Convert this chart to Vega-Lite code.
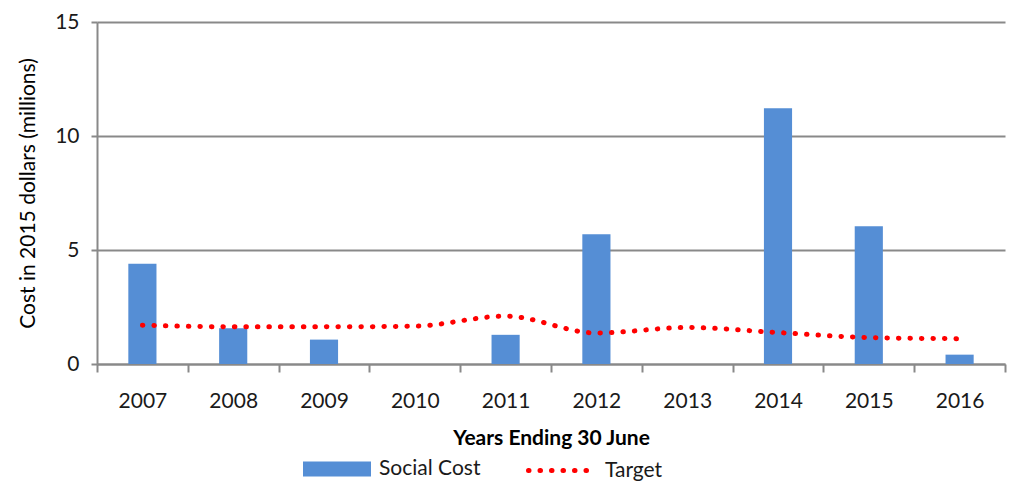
{
  "$schema": "https://vega.github.io/schema/vega-lite/v6.json",
  "width": 908,
  "height": 342,
  "autosize": {"type": "none"},
  "padding": {"left": 97, "top": 22, "right": 13, "bottom": 121},
  "background": "white",
  "config": {
    "view": {"stroke": null},
    "font": "Lato",
    "axis": {"labelFont": "Lato", "titleFont": "Lato", "labelColor": "#1a1a1a", "titleColor": "#000"},
    "legend": {"labelFont": "Lato", "labelFontSize": 21, "labelColor": "#1a1a1a"}
  },
  "data": {
    "values": [
      {"year": "2007", "cost": 4.40, "target": 1.70},
      {"year": "2008", "cost": 1.57, "target": 1.63},
      {"year": "2009", "cost": 1.07, "target": 1.63},
      {"year": "2010", "cost": 0, "target": 1.66},
      {"year": "2011", "cost": 1.28, "target": 2.10},
      {"year": "2012", "cost": 5.69, "target": 1.36},
      {"year": "2013", "cost": 0, "target": 1.60},
      {"year": "2014", "cost": 11.22, "target": 1.38},
      {"year": "2015", "cost": 6.04, "target": 1.16},
      {"year": "2016", "cost": 0.41, "target": 1.11}
    ]
  },
  "encoding": {
    "x": {
      "field": "year",
      "type": "ordinal",
      "scale": {"paddingInner": 0, "paddingOuter": 0},
      "axis": {
        "title": "Years Ending 30 June",
        "titleFontSize": 21,
        "titleFontWeight": "bold",
        "titlePadding": 16,
        "labelAngle": 0,
        "labelFontSize": 21,
        "labelPadding": 18,
        "tickBand": "extent",
        "tickSize": 8,
        "tickColor": "#898989",
        "tickWidth": 2,
        "domainColor": "#898989",
        "domainWidth": 2,
        "grid": false
      }
    }
  },
  "layer": [
    {
      "mark": {"type": "bar", "color": "#558ed5", "width": {"band": 0.31}},
      "encoding": {
        "y": {
          "field": "cost",
          "type": "quantitative",
          "scale": {"domain": [0, 15], "nice": false},
          "axis": {
            "title": "Cost in 2015 dollars (millions)",
            "titleFontSize": 21,
            "titleFontWeight": "normal",
            "titlePadding": 16,
            "values": [0, 5, 10, 15],
            "labelFontSize": 21,
            "labelPadding": 12,
            "tickSize": 6,
            "tickColor": "#898989",
            "tickWidth": 2,
            "domainColor": "#898989",
            "domainWidth": 2,
            "grid": true,
            "gridColor": "#898989",
            "gridWidth": 2
          }
        },
        "color": {
          "datum": "Social Cost",
          "type": "nominal",
          "scale": {"domain": ["Social Cost"], "range": ["#558ed5"]},
          "legend": {
            "title": null,
            "orient": "none",
            "legendX": 206,
            "legendY": 413,
            "symbolType": "M-1,-0.22H1V0.22H-1Z",
            "symbolSize": 4624,
            "symbolStrokeWidth": 0,
            "labelOffset": 8
          }
        }
      }
    },
    {
      "mark": {"type": "line", "interpolate": "monotone", "color": "#ff0000", "strokeWidth": 5, "strokeCap": "round", "strokeDash": [0.5, 11]},
      "encoding": {
        "y": {"field": "target", "type": "quantitative", "scale": {"domain": [0, 15], "nice": false}},
        "strokeDash": {
          "datum": "Target",
          "type": "nominal",
          "scale": {"domain": ["Target"], "range": [[0.5, 11]]},
          "legend": {
            "title": null,
            "orient": "none",
            "legendX": 429,
            "legendY": 414,
            "symbolType": "stroke",
            "symbolSize": 4096,
            "symbolStrokeColor": "#ff0000",
            "symbolStrokeWidth": 5,
            "labelOffset": 10,
            "encode": {"symbols": {"update": {"strokeCap": {"value": "round"}}}}
          }
        }
      }
    }
  ],
  "resolve": {"legend": {"color": "independent", "strokeDash": "independent"}}
}
